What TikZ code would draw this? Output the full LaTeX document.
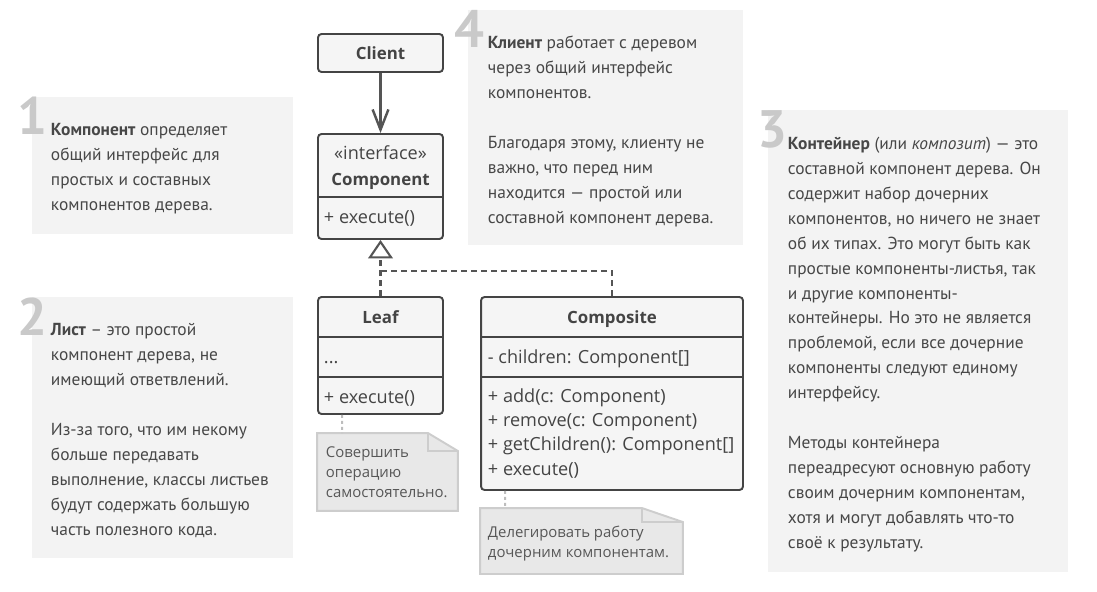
\documentclass[tikz,border=0pt]{standalone}
\usepackage{fontspec}
\setmainfont{PT Sans}
\newfontfamily\umlfont{Open Sans}
\usepackage{xcolor}
\usepackage{tikz}
\usetikzlibrary{arrows.meta,positioning}

\definecolor{ink}{HTML}{474747}
\definecolor{panelgray}{HTML}{F3F3F3}
\definecolor{numgray}{HTML}{C9C9C9}
\definecolor{umlink}{HTML}{444444}
\definecolor{linkgray}{HTML}{555555}
\definecolor{umlfill}{HTML}{F5F5F5}
\definecolor{notefill}{HTML}{E8E8E8}
\definecolor{noteedge}{HTML}{CDCDCD}
\definecolor{notetextgray}{HTML}{575757}
\definecolor{pingray}{HTML}{BDBDBD}

\begin{document}
\begin{tikzpicture}[
    x=0.02cm, y=-0.02cm,
    line width=1.1pt,
    panel/.style={rectangle, fill=panelgray, inner sep=0pt},
    num/.style={font=\fontsize{30}{30}\selectfont\bfseries, text=numgray, inner sep=0pt, anchor=base west},
    explain/.style={font=\fontsize{9.9}{14.17}\selectfont, text=ink, align=left, inner sep=0pt, anchor=base west},
    umlbox/.style={rectangle, draw=umlink, fill=umlfill, rounded corners=2pt, inner sep=0pt, minimum width=2.5cm},
    umltext/.style={font=\umlfont\fontsize{10.3}{13.8}\selectfont, text=umlink, align=left, inner sep=0pt, anchor=base west},
    umltitle/.style={font=\umlfont\bfseries\fontsize{9.6}{14.7}\selectfont, text=umlink, align=center, inner sep=0pt, anchor=base},
    divider/.style={draw=umlink},
    uses/.style={draw=linkgray, line width=1.4pt, -{Straight Barb[length=11.5pt,width=9pt]}},
    realize/.style={draw=linkgray, line width=1.2pt, dash pattern=on 3.4pt off 2.3pt},
    notespace/.style={rectangle, inner sep=0pt},
    notepaper/.style={draw=noteedge, fill=notefill, line width=1.1pt},
    notetext/.style={font=\umlfont\fontsize{8.5}{11.34}\selectfont, text=notetextgray, align=left, inner sep=0pt, anchor=base west},
    pinline/.style={draw=pingray, dash pattern=on 1.7pt off 1.7pt}
]
\useasboundingbox (0,0) rectangle (1097,591);

\node[panel, minimum width=5.22cm, minimum height=2.74cm] (p1) at (162.5,165.5) {};
\node[panel, minimum width=5.22cm, minimum height=5.22cm] (p2) at (162.5,427.5) {};
\node[panel, minimum width=5.5cm, minimum height=4.7cm] (p4) at (605.5,127.5) {};
\node[panel, minimum width=6cm, minimum height=9.24cm] (p3) at (918,341) {};

\node[num] (n1) at (17,135) {1};
\node[num] (n2) at (17,335) {2};
\node[num] (n4) at (454,48) {4};
\node[num] (n3) at (757,148) {3};

% base of a multi-line node = baseline of its last line
\node[explain] (t1) at (50,210) {\textbf{Компонент} определяет\\общий интерфейс для\\простых и составных\\компонентов дерева.};
\node[explain] (t2) at (50,535) {\textbf{Лист} – это простой\\компонент дерева, не\\имеющий ответвлений.\\[14.17pt]Из-за того, что им некому\\больше передавать\\выполнение, классы листьев\\будут содержать большую\\часть полезного кода.};
\node[explain] (t4) at (487,223) {\textbf{Клиент} работает с деревом\\через общий интерфейс\\компонентов.\\[14.17pt]Благодаря этому, клиенту не\\важно, что перед ним\\находится — простой или\\составной компонент дерева.};
\node[explain] (t3) at (787,548) {\textbf{Контейнер} (или \textit{композит}) — это\\составной компонент дерева. Он\\содержит набор дочерних\\компонентов, но ничего не знает\\об их типах. Это могут быть как\\простые компоненты-листья, так\\и другие компоненты-\\контейнеры. Но это не является\\проблемой, если все дочерние\\компоненты следуют единому\\интерфейсу.\\[14.17pt]Методы контейнера\\переадресуют основную работу\\своим дочерним компонентам,\\хотя и могут добавлять что-то\\своё к результату.};

\node[umlbox, minimum height=0.76cm, font=\umlfont\bfseries\fontsize{9.6}{11}\selectfont, text=umlink] (client) at (380.5,53) {Client};

\node[umlbox, minimum height=2.1cm] (comp) at (380.5,186.5) {};
\draw[divider] (318,197) -- (443,197);
\node[umltitle] (compname) at (380.5,185) {{\mdseries\fontsize{10.3}{14.7}\selectfont «interface»}\\Component};
\node[umltext] (compops) at (323,223) {+ execute()};

\node[umlbox, minimum height=2.34cm] (leaf) at (380.5,355.5) {};
\draw[divider] (318,337) -- (443,337);
\draw[divider] (318,377) -- (443,377);
\node[umltitle] (leafname) at (380.5,323) {Leaf};
\node[umltext] (leafattr) at (323,363) {...};
\node[umltext] (leafops) at (323,403) {+ execute()};

\node[umlbox, minimum width=5.24cm, minimum height=3.86cm] (composite) at (612,393.5) {};
\draw[divider] (481,337) -- (743,337);
\draw[divider] (481,377) -- (743,377);
\node[umltitle] (compositename) at (612,323) {Composite};
\node[umltext] (compositeattr) at (487,363) {- children: Component[]};
\node[umltext] (compositeops) at (487,475) {+ add(c: Component)\\+ remove(c: Component)\\+ getChildren(): Component[]\\+ execute()};

\draw[uses] (client) -- (comp);
\coordinate (join) at (380.5,271);
\draw[realize, -{Triangle[open,length=10.5pt,width=14pt]}] (leaf) -- (comp);
\draw[realize] (composite) |- (join);

\node[notespace, minimum width=2.78cm, minimum height=1.52cm] (leafnote) at (387.5,472) {};
\draw[notepaper] (leafnote.south west) -- (leafnote.north west) -- ([xshift=-0.6cm]leafnote.north east) -- ([yshift=-0.36cm]leafnote.north east) -- (leafnote.south east) -- cycle;
\draw[notepaper, fill=none] ([xshift=-0.6cm]leafnote.north east) |- ([yshift=-0.36cm]leafnote.north east);
\node[notetext] (leafnotetext) at (325,497) {Совершить\\операцию\\самостоятельно.};

\node[notespace, minimum width=4.02cm, minimum height=1.28cm] (compositenote) at (581.5,541) {};
\draw[notepaper] (compositenote.south west) -- (compositenote.north west) -- ([xshift=-0.82cm]compositenote.north east) -- ([yshift=-0.28cm]compositenote.north east) -- (compositenote.south east) -- cycle;
\draw[notepaper, fill=none] ([xshift=-0.82cm]compositenote.north east) |- ([yshift=-0.28cm]compositenote.north east);
\node[notetext] (compositenotetext) at (487,557) {Делегировать работу\\дочерним компонентам.};

\draw[pinline] ([xshift=0.5cm]leaf.south west) -- ([xshift=0.5cm]leafnote.north west);
\draw[pinline] ([xshift=0.5cm]composite.south west) -- ([xshift=0.5cm]compositenote.north west);
\end{tikzpicture}
\end{document}
